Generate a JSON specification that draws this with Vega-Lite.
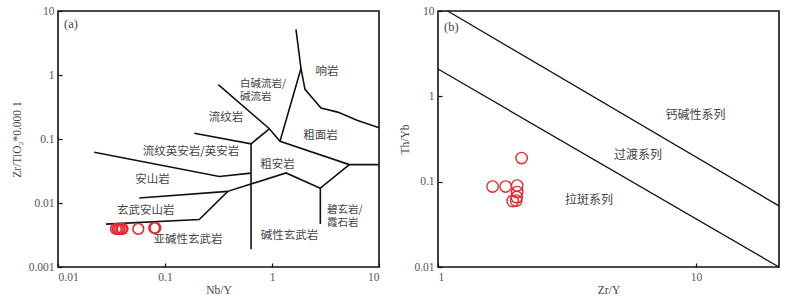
{
  "$schema": "https://vega.github.io/schema/vega-lite/v6.json",
  "background": "white",
  "padding": {"left": 10, "top": 4, "right": 5, "bottom": 0},
  "bounds": "flush",
  "spacing": 59,
  "config": {
    "view": {"stroke": "#111", "strokeWidth": 1.6},
    "axis": {"domain": false, "grid": false, "ticks": true, "tickColor": "#111", "tickSize": -4, "tickWidth": 1.2,
      "labelFont": "Liberation Serif", "labelFontSize": 11.5, "labelColor": "#555", "labelPadding": 8,
      "titleFont": "Liberation Serif", "titleFontSize": 11.5, "titleFontWeight": "normal", "titleColor": "#444"},
    "text": {"font": "Noto Sans CJK SC", "fontSize": 11.5, "fill": "#444"}
  },
  "datasets": {
    "leftLines": [
      {"seg": "s1", "i": 1, "x": 1.675, "y": 5.16},
      {"seg": "s1", "i": 2, "x": 1.866, "y": 1.262},
      {"seg": "s1", "i": 3, "x": 2.034, "y": 0.598},
      {"seg": "s1", "i": 4, "x": 2.87, "y": 0.304},
      {"seg": "s1", "i": 5, "x": 4.11, "y": 0.263},
      {"seg": "s1", "i": 6, "x": 6.32, "y": 0.195},
      {"seg": "s1", "i": 7, "x": 10, "y": 0.15},
      {"seg": "s2", "i": 1, "x": 1.866, "y": 1.262},
      {"seg": "s2", "i": 2, "x": 1.188, "y": 0.0923},
      {"seg": "s3", "i": 1, "x": 0.315, "y": 0.708},
      {"seg": "s3", "i": 2, "x": 0.944, "y": 0.1445},
      {"seg": "s3", "i": 3, "x": 1.188, "y": 0.0923},
      {"seg": "s3", "i": 4, "x": 5.28, "y": 0.0398},
      {"seg": "s3", "i": 5, "x": 10, "y": 0.0398},
      {"seg": "s4", "i": 1, "x": 0.188, "y": 0.123},
      {"seg": "s4", "i": 2, "x": 0.637, "y": 0.0841},
      {"seg": "s4", "i": 3, "x": 0.944, "y": 0.1445},
      {"seg": "s5", "i": 1, "x": 0.637, "y": 0.0841},
      {"seg": "s5", "i": 2, "x": 0.637, "y": 0.0019},
      {"seg": "s6", "i": 1, "x": 0.0218, "y": 0.0621},
      {"seg": "s6", "i": 2, "x": 0.322, "y": 0.026},
      {"seg": "s6", "i": 3, "x": 0.637, "y": 0.0293},
      {"seg": "s7", "i": 1, "x": 5.28, "y": 0.0398},
      {"seg": "s7", "i": 2, "x": 2.83, "y": 0.017},
      {"seg": "s7", "i": 3, "x": 2.83, "y": 0.00468},
      {"seg": "s8", "i": 1, "x": 2.83, "y": 0.017},
      {"seg": "s8", "i": 2, "x": 1.352, "y": 0.0295},
      {"seg": "s8", "i": 3, "x": 0.386, "y": 0.0152},
      {"seg": "s8", "i": 4, "x": 0.209, "y": 0.00552},
      {"seg": "s8", "i": 5, "x": 0.0281, "y": 0.00468},
      {"seg": "s9", "i": 1, "x": 0.0575, "y": 0.01197},
      {"seg": "s9", "i": 2, "x": 0.386, "y": 0.0152}
    ],
    "leftPoints": [
      {"nby": 0.0348, "zrti": 0.00394},
      {"nby": 0.0362, "zrti": 0.00394},
      {"nby": 0.0375, "zrti": 0.00394},
      {"nby": 0.0392, "zrti": 0.00394},
      {"nby": 0.0401, "zrti": 0.00394},
      {"nby": 0.0563, "zrti": 0.00394},
      {"nby": 0.0794, "zrti": 0.00408},
      {"nby": 0.0812, "zrti": 0.00408}
    ],
    "leftLabels": [
      {"t": "响岩", "x": 3.27, "y": 1.104},
      {"t": "流纹岩", "x": 0.3715, "y": 0.21},
      {"t": "粗面岩", "x": 2.84, "y": 0.1114},
      {"t": "流纹英安岩/英安岩", "x": 0.175, "y": 0.0621},
      {"t": "粗安岩", "x": 1.125, "y": 0.0398},
      {"t": "安山岩", "x": 0.0764, "y": 0.0232},
      {"t": "玄武安山岩", "x": 0.066, "y": 0.00756},
      {"t": "亚碱性玄武岩", "x": 0.164, "y": 0.00265},
      {"t": "碱性玄武岩", "x": 1.458, "y": 0.00306}
    ],
    "leftLabels2": [
      {"t": ["白碱流岩/", "碱流岩"], "x": 0.502, "y": 0.72},
      {"t": ["碧玄岩/", "霞石岩"], "x": 3.27, "y": 0.0078}
    ],
    "rightLines": [
      {"seg": "r1", "i": 1, "x": 1.09, "y": 10},
      {"seg": "r1", "i": 2, "x": 21, "y": 0.052},
      {"seg": "r2", "i": 1, "x": 1, "y": 2.09},
      {"seg": "r2", "i": 2, "x": 21, "y": 0.01}
    ],
    "rightPoints": [
      {"zry": 2.11, "thyb": 0.189},
      {"zry": 1.628, "thyb": 0.0877},
      {"zry": 1.829, "thyb": 0.0877},
      {"zry": 2.028, "thyb": 0.09},
      {"zry": 2.028, "thyb": 0.0755},
      {"zry": 2.019, "thyb": 0.0659},
      {"zry": 2.01, "thyb": 0.06},
      {"zry": 1.947, "thyb": 0.0592}
    ],
    "rightLabels": [
      {"t": "钙碱性系列", "x": 9.97, "y": 0.604},
      {"t": "过渡系列", "x": 5.97, "y": 0.205},
      {"t": "拉斑系列", "x": 3.85, "y": 0.0608}
    ]
  },
  "hconcat": [
    {
      "width": 321,
      "height": 256,
      "layer": [
        {
          "data": {"name": "leftLines"},
          "mark": {"type": "line", "color": "#111", "strokeWidth": 1.6},
          "encoding": {
            "x": {"field": "x", "type": "quantitative", "scale": {"type": "log", "domain": [0.01, 10], "nice": false},
              "axis": {"values": [0.01, 0.1, 1, 10], "format": "~g", "title": "Nb/Y", "titlePadding": 2}},
            "y": {"field": "y", "type": "quantitative", "scale": {"type": "log", "domain": [0.001, 10], "nice": false},
              "axis": {"values": [0.001, 0.01, 0.1, 1, 10], "format": "~g", "title": "Zr/TiO₂*0.000 1", "titlePadding": 6}},
            "detail": {"field": "seg"},
            "order": {"field": "i", "type": "quantitative"}
          }
        },
        {
          "data": {"name": "leftPoints"},
          "mark": {"type": "point", "shape": "circle", "filled": false, "stroke": "#e8262c", "strokeWidth": 1.6, "size": 115, "opacity": 1},
          "encoding": {
            "x": {"field": "nby", "type": "quantitative"},
            "y": {"field": "zrti", "type": "quantitative"}
          }
        },
        {
          "data": {"name": "leftLabels"},
          "mark": {"type": "text", "baseline": "middle", "align": "center"},
          "encoding": {
            "x": {"field": "x", "type": "quantitative"},
            "y": {"field": "y", "type": "quantitative"},
            "text": {"field": "t"}
          }
        },
        {
          "data": {"name": "leftLabels2"},
          "mark": {"type": "text", "baseline": "middle", "align": "left", "fontSize": 10.5, "lineHeight": 13},
          "encoding": {
            "x": {"field": "x", "type": "quantitative"},
            "y": {"field": "y", "type": "quantitative"},
            "text": {"field": "t"}
          }
        },
        {
          "data": {"values": [{"t": "(a)", "x": 0.01138, "y": 6.25}]},
          "mark": {"type": "text", "font": "Liberation Serif", "fontSize": 12.5, "align": "left", "baseline": "middle"},
          "encoding": {
            "x": {"field": "x", "type": "quantitative"},
            "y": {"field": "y", "type": "quantitative"},
            "text": {"field": "t"}
          }
        }
      ]
    },
    {
      "width": 341,
      "height": 256,
      "layer": [
        {
          "data": {"name": "rightLines"},
          "mark": {"type": "line", "color": "#111", "strokeWidth": 1.3},
          "encoding": {
            "x": {"field": "x", "type": "quantitative", "scale": {"type": "log", "domain": [1, 21], "nice": false},
              "axis": {"values": [1, 10], "format": "~g", "title": "Zr/Y", "titlePadding": 2}},
            "y": {"field": "y", "type": "quantitative", "scale": {"type": "log", "domain": [0.01, 10], "nice": false},
              "axis": {"values": [0.01, 0.1, 1, 10], "format": "~g", "title": "Th/Yb", "titlePadding": 3}},
            "detail": {"field": "seg"},
            "order": {"field": "i", "type": "quantitative"}
          }
        },
        {
          "data": {"name": "rightPoints"},
          "mark": {"type": "point", "shape": "circle", "filled": false, "stroke": "#e8262c", "strokeWidth": 1.4, "size": 130, "opacity": 1},
          "encoding": {
            "x": {"field": "zry", "type": "quantitative"},
            "y": {"field": "thyb", "type": "quantitative"}
          }
        },
        {
          "data": {"name": "rightLabels"},
          "mark": {"type": "text", "baseline": "middle", "align": "center", "fontSize": 12},
          "encoding": {
            "x": {"field": "x", "type": "quantitative"},
            "y": {"field": "y", "type": "quantitative"},
            "text": {"field": "t"}
          }
        },
        {
          "data": {"values": [{"t": "(b)", "x": 1.055, "y": 6.49}]},
          "mark": {"type": "text", "font": "Liberation Serif", "fontSize": 12.5, "align": "left", "baseline": "middle"},
          "encoding": {
            "x": {"field": "x", "type": "quantitative"},
            "y": {"field": "y", "type": "quantitative"},
            "text": {"field": "t"}
          }
        }
      ]
    }
  ]
}
